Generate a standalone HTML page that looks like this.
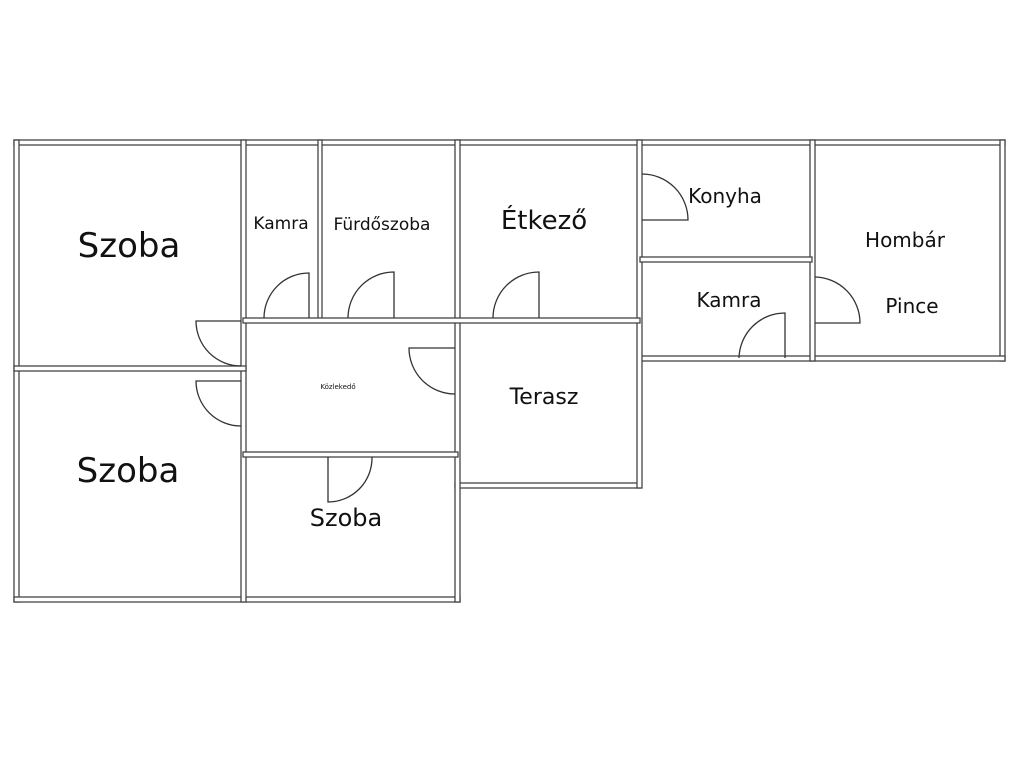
<!DOCTYPE html>
<html><head><meta charset="utf-8"><style>
body{margin:0;background:#fff;}
svg{display:block}
text{font-family:"DejaVu Sans","Liberation Sans",sans-serif;fill:#111}
</style></head><body>
<svg width="1024" height="768" viewBox="0 0 1024 768">
<g fill="#fff" stroke="#444" stroke-width="1.3">
<!-- outer -->
<rect x="14" y="140" width="991" height="5"/>
<rect x="14" y="140" width="5" height="462"/>
<rect x="14" y="597" width="446" height="5"/>
<rect x="1000" y="140" width="5" height="221"/>
<rect x="638" y="356" width="367" height="5"/>
<rect x="455" y="483" width="185" height="5"/>
<!-- interior -->
<rect x="241" y="140" width="5" height="462"/>
<rect x="318" y="140" width="4" height="181"/>
<rect x="455" y="140" width="5" height="462"/>
<rect x="637" y="140" width="5" height="348"/>
<rect x="810" y="140" width="5" height="221"/>
<rect x="640" y="257" width="172" height="5"/>
<rect x="243" y="318" width="397" height="5"/>
<rect x="14" y="366" width="232" height="5"/>
<rect x="243" y="452" width="215" height="5"/>
</g>
<g fill="none" stroke="#333" stroke-width="1.3">
<path d="M309 318 V273 A45 45 0 0 0 264 318"/>
<path d="M394 318 V272 A46 46 0 0 0 348 318"/>
<path d="M539 318 V272 A46 46 0 0 0 493 318"/>
<path d="M241 321 H196 A45 45 0 0 0 241 366"/>
<path d="M241 381 H196 A45 45 0 0 0 241 426"/>
<path d="M455 348 H409 A46 46 0 0 0 455 394"/>
<path d="M328 457 V502 A44 44 0 0 0 372 457"/>
<path d="M642 220 H688 A46 46 0 0 0 642 174"/>
<path d="M785 358 V313 A46 46 0 0 0 739 358"/>
<path d="M815 323 H860 A46 46 0 0 0 815 277"/>
</g>
<text x="129" y="257" font-size="34" text-anchor="middle">Szoba</text>
<text x="128" y="482" font-size="34" text-anchor="middle">Szoba</text>
<text x="281" y="229" font-size="17" text-anchor="middle">Kamra</text>
<text x="382" y="230" font-size="17" text-anchor="middle">Fürdőszoba</text>
<text x="544" y="229" font-size="26" text-anchor="middle">Étkező</text>
<text x="725" y="203" font-size="20" text-anchor="middle">Konyha</text>
<text x="905" y="247" font-size="20" text-anchor="middle">Hombár</text>
<text x="912" y="313" font-size="20" text-anchor="middle">Pince</text>
<text x="729" y="307" font-size="20" text-anchor="middle">Kamra</text>
<text x="544" y="404" font-size="22" text-anchor="middle">Terasz</text>
<text x="346" y="526" font-size="24" text-anchor="middle">Szoba</text>
<text x="338" y="389" font-size="7" text-anchor="middle">Közlekedő</text>
</svg>
</body></html>
